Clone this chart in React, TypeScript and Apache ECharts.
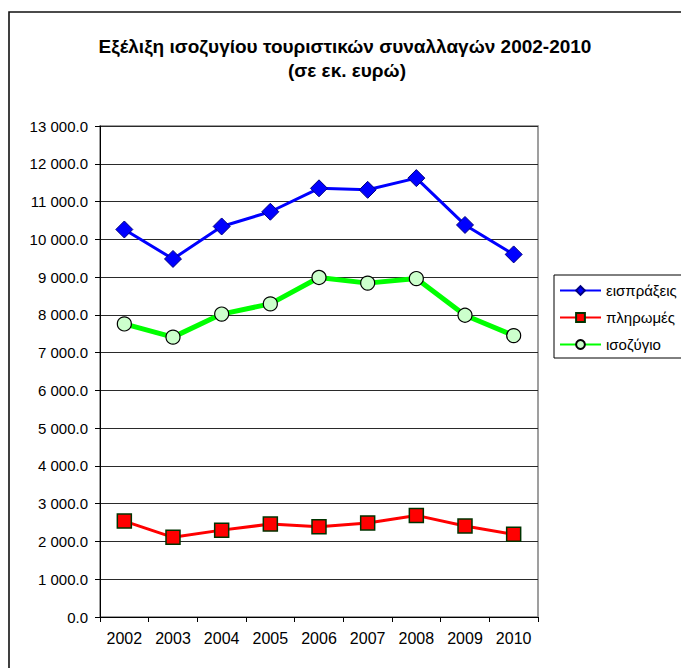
import React, { useEffect, useRef } from "react";
import * as echarts from "echarts";

const years = ["2002", "2003", "2004", "2005", "2006", "2007", "2008", "2009", "2010"];
const receipts = [10260, 9480, 10340, 10730, 11350, 11310, 11620, 10380, 9600];
const payments = [2540, 2110, 2300, 2460, 2390, 2490, 2690, 2410, 2190];
const balance = [7760, 7410, 8020, 8290, 8990, 8840, 8960, 7990, 7450];

const seriesNames = ["εισπράξεις", "πληρωμές", "ισοζύγιο"];
const titleLine1 = "Εξέλιξη ισοζυγίου τουριστικών συναλλαγών 2002-2010";
const titleLine2 = "(σε εκ. ευρώ)";

const FONT = "'Liberation Sans', Arial, sans-serif";

function fmt(v: number): string {
  const s = v.toFixed(1);
  const [intPart, dec] = s.split(".");
  const withSep = intPart.replace(/\B(?=(\d{3})+(?!\d))/g, " ");
  return withSep + "." + dec;
}

export default function App() {
  const ref = useRef<HTMLDivElement>(null);
  useEffect(() => {
    if (!ref.current) return;
    const chart = echarts.init(ref.current, null, { renderer: "svg" });
    chart.setOption({
      animation: false,
      backgroundColor: "#ffffff",
      textStyle: { fontFamily: FONT },
      graphic: [
        {
          type: "rect",
          shape: { x: 9, y: 12, width: 720, height: 720 },
          style: { fill: "none", stroke: "#111", lineWidth: 1.6 },
          silent: true,
          z: 0,
        },
        {
          type: "text",
          x: 345,
          y: 46,
          style: {
            text: titleLine1,
            font: `bold 19px ${FONT}`,
            fill: "#000",
            textAlign: "center",
            textVerticalAlign: "middle",
          },
        },
        {
          type: "text",
          x: 347,
          y: 70,
          style: {
            text: titleLine2,
            font: `bold 19px ${FONT}`,
            fill: "#000",
            textAlign: "center",
            textVerticalAlign: "middle",
          },
        },
      ],
      legend: {
        orient: "vertical",
        left: 554,
        top: 275,
        padding: [8, 40, 6, 5],
        itemWidth: 41,
        itemHeight: 11,
        itemGap: 12,
        borderColor: "#000",
        borderWidth: 1,
        backgroundColor: "#fff",
        textStyle: { fontSize: 15, color: "#000", fontFamily: FONT },
        data: seriesNames,
      },
      grid: {
        left: 100,
        top: 126,
        right: 143,
        bottom: 51,
        show: true,
        borderColor: "#808080",
        borderWidth: 1.5,
        backgroundColor: "transparent",
      },
      xAxis: {
        type: "category",
        data: years,
        boundaryGap: true,
        axisLine: { lineStyle: { color: "#000", width: 1 } },
        axisTick: { show: true, length: 5, lineStyle: { color: "#000" } },
        axisLabel: { color: "#000", fontSize: 16, margin: 13, fontFamily: FONT },
        splitLine: { show: false },
      },
      yAxis: {
        type: "value",
        min: 0,
        max: 13000,
        interval: 1000,
        axisLine: { show: true, lineStyle: { color: "#000", width: 1 } },
        axisTick: { show: true, length: 5, lineStyle: { color: "#000" } },
        axisLabel: { color: "#000", fontSize: 15, margin: 12, fontFamily: FONT, formatter: (v: number) => fmt(v) },
        splitLine: { show: true, lineStyle: { color: "#2a2a2a", width: 1 } },
      },
      series: [
        {
          name: seriesNames[0],
          type: "line",
          data: receipts,
          symbol: "diamond",
          symbolSize: 17,
          lineStyle: { color: "#0000FF", width: 3 },
          itemStyle: { color: "#0000FF", borderColor: "#000080", borderWidth: 1 },
          z: 3,
        },
        {
          name: seriesNames[1],
          type: "line",
          data: payments,
          symbol: "rect",
          symbolSize: 14,
          lineStyle: { color: "#FF0000", width: 3 },
          itemStyle: { color: "#FF0000", borderColor: "#003300", borderWidth: 1.5 },
          z: 3,
        },
        {
          name: seriesNames[2],
          type: "line",
          data: balance,
          symbol: "circle",
          symbolSize: 14,
          lineStyle: { color: "#00FF00", width: 5 },
          itemStyle: { color: "#CCFFCC", borderColor: "#000", borderWidth: 1.2 },
          z: 3,
        },
      ],
    });
    return () => chart.dispose();
  }, []);
  return (
    <div
      ref={ref}
      style={{ position: "absolute", left: 0, top: 0, width: 681, height: 668, background: "#fff" }}
    />
  );
}
